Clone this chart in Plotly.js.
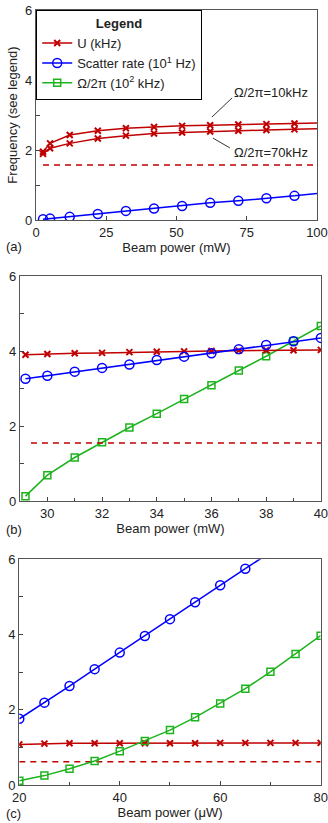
<!DOCTYPE html>
<html>
<head>
<meta charset="utf-8">
<script src="https://cdn.plot.ly/plotly-3.0.1.min.js"></script>
<style>html,body{margin:0;padding:0;background:#fff;}#chart{width:328px;height:823px;}</style>
</head>
<body>
<div id="chart"></div>
<script>
// ---- Panel (a): beam power in mW ----
const a_x = [2.5, 5, 12, 22, 32, 42, 52, 62, 72, 82, 92];
const a_U10 = [1.95, 2.19, 2.43, 2.55, 2.62, 2.66, 2.69, 2.71, 2.73, 2.74, 2.76];
const a_U70 = [1.89, 2.05, 2.19, 2.33, 2.41, 2.47, 2.50, 2.53, 2.55, 2.57, 2.59];
const a_scatter = [0.02, 0.04, 0.09, 0.17, 0.26, 0.33, 0.40, 0.49, 0.55, 0.62, 0.69];
const a_xEnd = 100;
const a_U10End = 2.77, a_U70End = 2.61, a_scatterEnd = 0.76;
const a_dashX = [2.5, 100], a_dashY = 1.57;

// ---- Panel (b): beam power in mW ----
const b_x = [29.2, 30, 31, 32, 33, 34, 35, 36, 37, 38, 39, 40];
const b_U = [3.90, 3.92, 3.94, 3.95, 3.97, 3.98, 3.99, 4.00, 4.01, 4.02, 4.02, 4.03];
const b_scatter = [3.26, 3.34, 3.45, 3.55, 3.64, 3.76, 3.85, 3.94, 4.05, 4.16, 4.26, 4.35];
const b_omega = [0.13, 0.69, 1.16, 1.57, 1.96, 2.33, 2.72, 3.09, 3.48, 3.86, 4.27, 4.67];
const b_dashX = [29.4, 40], b_dashY = 1.55;

// ---- Panel (c): beam power in µW ----
const c_x = [20, 25, 30, 35, 40, 45, 50, 55, 60, 65, 70, 75, 80];
const c_U = [1.08, 1.10, 1.11, 1.11, 1.11, 1.11, 1.11, 1.11, 1.12, 1.12, 1.12, 1.12, 1.12];
const c_scatterX = [20, 25, 30, 35, 40, 45, 50, 55, 60, 65];
const c_scatter = [1.76, 2.19, 2.63, 3.08, 3.52, 3.96, 4.41, 4.86, 5.31, 5.75];
const c_scatterEndX = 70, c_scatterEnd = 6.19;
const c_omega = [0.115, 0.25, 0.43, 0.64, 0.90, 1.17, 1.46, 1.80, 2.17, 2.56, 3.01, 3.48, 3.97];
const c_dashX = [20, 80], c_dashY = 0.62;

// tick labels
const a_ticks = [0, 25, 50, 75, 100];
const b_ticks = [30, 32, 34, 36, 38, 40];
const c_ticks = [20, 40, 60, 80];
const y_ticks = [0, 2, 4, 6];

const names = ['U (kHz)', 'Scatter rate (10<sup>1</sup> Hz)', 'Ω/2π (10<sup>2</sup> kHz)'];
const RED = '#c00000', BLUE = '#0000ff', GREEN = '#1db31d';

const mk = {
  U: {symbol: 'x-thin-open', size: 6, color: RED, line: {color: RED, width: 2}},
  S: {symbol: 'circle-open', size: 9, color: BLUE, line: {color: BLUE, width: 1.5}},
  O: {symbol: 'square-open', size: 7, color: GREEN, line: {color: GREEN, width: 1.5}}
};

function series(x, y, xa, ya, color, marker, name, show, group) {
  return {x: x, y: y, xaxis: xa, yaxis: ya, mode: 'lines+markers', type: 'scatter',
    line: {color: color, width: 1.5}, marker: marker, name: name,
    showlegend: show, legendgroup: group, cliponaxis: true};
}
function lineOnly(x, y, xa, ya, color, dash) {
  return {x: x, y: y, xaxis: xa, yaxis: ya, mode: 'lines', type: 'scatter',
    line: {color: color, width: 1.5, dash: dash || 'solid'}, showlegend: false, hoverinfo: 'skip'};
}

const traces = [];
traces.push(series(a_x, a_U10, 'x', 'y', RED, mk.U, names[0], true, 'U'));
traces.push(series(a_x, a_scatter, 'x', 'y', BLUE, mk.S, names[1], true, 'S'));
traces.push(series(b_x, b_omega, 'x2', 'y2', GREEN, mk.O, names[2], true, 'O'));
traces.push(series(a_x, a_U70, 'x', 'y', RED, mk.U, names[0], false, 'U'));
traces.push(lineOnly([a_x[a_x.length-1], a_xEnd], [a_U10[a_U10.length-1], a_U10End], 'x', 'y', RED));
traces.push(lineOnly([a_x[a_x.length-1], a_xEnd], [a_U70[a_U70.length-1], a_U70End], 'x', 'y', RED));
traces.push(lineOnly([a_x[a_x.length-1], a_xEnd], [a_scatter[a_scatter.length-1], a_scatterEnd], 'x', 'y', BLUE));
traces.push(lineOnly(a_dashX, [a_dashY, a_dashY], 'x', 'y', RED, '6px,5px'));
traces.push(lineOnly(b_dashX, [b_dashY, b_dashY], 'x2', 'y2', RED, '6px,5px'));
traces.push(series(b_x, b_U, 'x2', 'y2', RED, mk.U, names[0], false, 'U'));
traces.push(series(b_x, b_scatter, 'x2', 'y2', BLUE, mk.S, names[1], false, 'S'));
traces.push(lineOnly(c_dashX, [c_dashY, c_dashY], 'x3', 'y3', RED, '6px,5px'));
traces.push(series(c_x, c_U, 'x3', 'y3', RED, mk.U, names[0], false, 'U'));
traces.push(lineOnly([c_scatterX[c_scatterX.length-1], c_scatterEndX], [c_scatter[c_scatter.length-1], c_scatterEnd], 'x3', 'y3', BLUE));
traces.push(series(c_scatterX, c_scatter, 'x3', 'y3', BLUE, mk.S, names[1], false, 'S'));
traces.push(series(c_x, c_omega, 'x3', 'y3', GREEN, mk.O, names[2], false, 'O'));

const FONT = {family: 'Liberation Sans, Arial, sans-serif', size: 13, color: '#222'};
function xax(range, ticks, minor, domain, anchor, title) {
  return {range: range, tickmode: 'array', tickvals: ticks, ticktext: ticks.map(String),
    domain: domain, anchor: anchor, ticklabeloverflow: 'allow',
    ticks: 'inside', ticklen: 4, tickcolor: '#444', showgrid: false, zeroline: false,
    showline: true, linecolor: '#555', linewidth: 1.2, mirror: true,
    minor: minor ? {dtick: minor, tick0: 0, ticks: 'inside', ticklen: 3, tickcolor: '#444', showgrid: false} : undefined,
    tickfont: FONT, title: {text: title, font: FONT, standoff: 2}, fixedrange: true};
}
function yax(domain, anchor, title) {
  const ax = {range: [0, 6.001], tickmode: 'array', tickvals: y_ticks, ticktext: y_ticks.map(String),
    domain: domain, anchor: anchor, ticklabeloverflow: 'allow',
    ticks: 'inside', ticklen: 4, tickcolor: '#444', showgrid: false, zeroline: false,
    showline: true, linecolor: '#555', linewidth: 1.2, mirror: true,
    minor: {dtick: 1, tick0: 0, ticks: 'inside', ticklen: 4, tickcolor: '#444', showgrid: false},
    tickfont: FONT, fixedrange: true};
  if (title) ax.title = {text: title, font: FONT, standoff: 4};
  return ax;
}

const layout = {
  width: 328, height: 823,
  margin: {l: 0, r: 0, t: 0, b: 0},
  paper_bgcolor: '#fff', plot_bgcolor: '#fff',
  font: FONT,
  xaxis: xax([0, 100.01], a_ticks, 0, [36/328, 317/328], 'y', 'Beam power (mW)'),
  yaxis: yax([1 - 220/823, 1 - 10/823], 'x', 'Frequency (see legend)'),
  xaxis2: xax([29, 40.005], b_ticks, 1, [20/328, 321/328], 'y2', 'Beam power (mW)'),
  yaxis2: yax([1 - 501/823, 1 - 276/823], 'x2'),
  xaxis3: xax([20, 80.01], c_ticks, 10, [19.3/328, 320.7/328], 'y3', 'Beam power (μW)'),
  yaxis3: yax([1 - 785/823, 1 - 559.3/823], 'x3'),
  showlegend: true,
  legend: {x: 36/328, y: 1 - 10/823, xanchor: 'left', yanchor: 'top',
    bgcolor: '#fff', bordercolor: '#000', borderwidth: 1.2,
    font: FONT, tracegroupgap: 0, itemwidth: 30,
    title: {text: '<b>Legend</b>', side: 'top center', font: FONT}},
  shapes: [
    {type: 'line', xref: 'x', yref: 'y', x0: 62.6, y0: 2.94, x1: 69.8, y1: 3.49, line: {color: '#000', width: 0.8}},
    {type: 'line', xref: 'x', yref: 'y', x0: 63.0, y0: 2.34, x1: 69.0, y1: 2.06, line: {color: '#000', width: 0.8}}
  ],
  annotations: [
    {xref: 'x', yref: 'y', x: 69.8, y: 3.63, xanchor: 'left', yanchor: 'middle', text: 'Ω/2π=10kHz', showarrow: false, font: FONT},
    {xref: 'x', yref: 'y', x: 69.8, y: 1.92, xanchor: 'left', yanchor: 'middle', text: 'Ω/2π=70kHz', showarrow: false, font: FONT},
    {xref: 'paper', yref: 'paper', x: 4/328, y: 1 - 247/823, xanchor: 'left', yanchor: 'middle', text: '(a)', showarrow: false, font: FONT},
    {xref: 'paper', yref: 'paper', x: 4/328, y: 1 - 529/823, xanchor: 'left', yanchor: 'middle', text: '(b)', showarrow: false, font: FONT},
    {xref: 'paper', yref: 'paper', x: 4/328, y: 1 - 813/823, xanchor: 'left', yanchor: 'middle', text: '(c)', showarrow: false, font: FONT}
  ]
};

Plotly.newPlot('chart', traces, layout, {staticPlot: true, displayModeBar: false});
</script>
</body>
</html>
